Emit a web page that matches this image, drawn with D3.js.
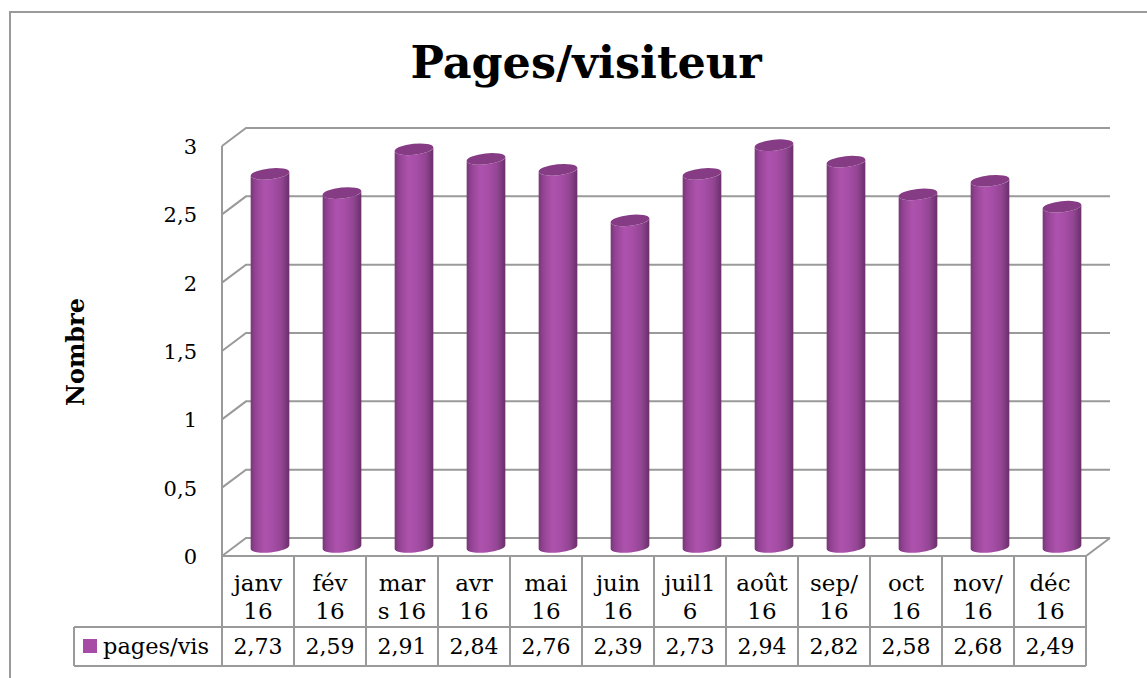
<!DOCTYPE html>
<html>
<head>
<meta charset="utf-8">
<script src="https://cdn.jsdelivr.net/npm/d3@7"></script>
<style>
  html, body { margin: 0; padding: 0; background: #fff; overflow: hidden; }
  svg { display: block; }
  text { font-family: "DejaVu Serif", "Liberation Serif", serif; fill: #000; }
</style>
</head>
<body>
<svg id="chart" width="1147" height="678"></svg>
<script>
// données du graphique
const categories = ["janv 16", "fév 16", "mars 16", "avr 16", "mai 16", "juin 16",
                    "juil16", "août 16", "sep/16", "oct 16", "nov/16", "déc 16"];
// étiquettes coupées sur deux lignes comme dans l'original
const categoryLines = [["janv", "16"], ["fév", "16"], ["mar", "s 16"], ["avr", "16"],
                       ["mai", "16"], ["juin", "16"], ["juil1", "6"], ["août", "16"],
                       ["sep/", "16"], ["oct", "16"], ["nov/", "16"], ["déc", "16"]];
const values = [2.73, 2.59, 2.91, 2.84, 2.76, 2.39, 2.73, 2.94, 2.82, 2.58, 2.68, 2.49];
const seriesName = "pages/vis";
const yTicks = [0, 0.5, 1, 1.5, 2, 2.5, 3];
const title = "Pages/visiteur";
const yTitle = "Nombre";

const svg = d3.select("#chart");
const fr = d3.formatLocale({decimal: ",", thousands: " ", grouping: [3], currency: ["", "€"]});
const fmtTick = fr.format("~g");
const fmtVal = fr.format(".2f");

// profondeur 3D
const dx = 24, dy = -18;
const gridColor = "#9a9a9a";

const x = d3.scaleBand().domain(categories).range([222, 1086]).paddingInner(0).paddingOuter(0);
const y = d3.scaleLinear().domain([0, 3]).range([556, 146]);

// cadre extérieur
svg.append("rect")
  .attr("x", 10).attr("y", 12).attr("width", 1200).attr("height", 700)
  .attr("fill", "none").attr("stroke", gridColor).attr("stroke-width", 2);

// titre
svg.append("text")
  .attr("x", 586).attr("y", 78)
  .attr("text-anchor", "middle")
  .style("font-size", "44.5px").style("font-weight", "bold")
  .text(title);

// titre de l'axe
svg.append("text")
  .attr("transform", "translate(84,352) rotate(-90)")
  .attr("text-anchor", "middle")
  .style("font-size", "24px").style("font-weight", "bold")
  .text(yTitle);

const grid = svg.append("g").attr("stroke", gridColor).attr("stroke-width", 2).attr("fill", "none");

// mur de gauche : arête avant
grid.append("line")
  .attr("x1", x.range()[0]).attr("x2", x.range()[0])
  .attr("y1", y(3)).attr("y2", y(0));

// grilles : diagonale + ligne du fond
yTicks.forEach(t => {
  grid.append("path")
    .attr("d", `M${x.range()[0]},${y(t)} L${x.range()[0] + dx},${y(t) + dy} L${x.range()[1] + dx},${y(t) + dy}`);
});

// plancher
grid.append("path")
  .attr("d", `M${x.range()[0]},${y(0)} L${x.range()[1]},${y(0)} L${x.range()[1] + dx},${y(0) + dy}`);

// étiquettes de l'axe Y
svg.append("g").selectAll("text")
  .data(yTicks)
  .join("text")
  .attr("x", 197)
  .attr("y", d => y(d) + 8)
  .attr("text-anchor", "end")
  .style("font-size", "21px")
  .text(d => fmtTick(d));

// dégradé des cylindres
const defs = svg.append("defs");
const grad = defs.append("linearGradient").attr("id", "cyl").attr("x1", "0%").attr("x2", "100%").attr("y1", "0%").attr("y2", "0%");
[["0%", "#773777"], ["12%", "#934393"], ["35%", "#ad52ad"], ["55%", "#a84ea8"], ["80%", "#924592"], ["100%", "#6a2f6a"]]
  .forEach(s => grad.append("stop").attr("offset", s[0]).attr("stop-color", s[1]));

const bw = x.bandwidth() * 0.54;
const rx = bw / 2, ry = 5.5, rot = -6;
const th = rot * Math.PI / 180;
const ex = rx * Math.cos(th), ey = rx * Math.sin(th);

const bars = svg.append("g").selectAll("g")
  .data(values.map((v, i) => ({v, cat: categories[i]})))
  .join("g");

bars.append("path")
  .attr("fill", "url(#cyl)")
  .attr("d", d => {
    const cx = x(d.cat) + x.bandwidth() / 2 + dx / 2;
    const yb = y(0) + dy / 2;
    const yt = y(d.v) + dy / 2;
    return `M${cx - ex},${yt - ey} L${cx - ex},${yb - ey} A${rx},${ry} ${rot} 0 0 ${cx + ex},${yb + ey} L${cx + ex},${yt + ey} A${rx},${ry} ${rot} 0 1 ${cx - ex},${yt - ey} Z`;
  });

bars.append("ellipse")
  .attr("fill", "#853c85")
  .attr("rx", rx).attr("ry", ry)
  .attr("transform", d => {
    const cx = x(d.cat) + x.bandwidth() / 2 + dx / 2;
    return `translate(${cx},${y(d.v) + dy / 2}) rotate(${rot})`;
  });

// tableau de données
const tTop = y(0), tMid = 627, tBot = 666, legLeft = 74;
const table = svg.append("g").attr("stroke", gridColor).attr("stroke-width", 2).attr("fill", "none");
table.append("path").attr("d", `M${x.range()[0]},${tTop} L${x.range()[0]},${tBot}`);
x.domain().forEach(c => {
  table.append("line").attr("x1", x(c) + x.bandwidth()).attr("x2", x(c) + x.bandwidth()).attr("y1", tTop).attr("y2", tBot);
});
table.append("line").attr("x1", legLeft).attr("x2", x.range()[1]).attr("y1", tMid).attr("y2", tMid);
table.append("line").attr("x1", legLeft).attr("x2", x.range()[1]).attr("y1", tBot).attr("y2", tBot);
table.append("line").attr("x1", legLeft).attr("x2", legLeft).attr("y1", tMid).attr("y2", tBot);

// catégories (2 lignes)
const catG = svg.append("g").selectAll("text")
  .data(categoryLines.map((l, i) => ({l, cat: categories[i]})))
  .join("text")
  .attr("text-anchor", "middle")
  .style("font-size", "23px");
catG.selectAll("tspan")
  .data(d => d.l.map((s, k) => ({s, k, cat: d.cat})))
  .join("tspan")
  .attr("x", d => x(d.cat) + x.bandwidth() / 2)
  .attr("y", d => 591 + d.k * 28)
  .text(d => d.s);

// valeurs
svg.append("g").selectAll("text")
  .data(values.map((v, i) => ({v, cat: categories[i]})))
  .join("text")
  .attr("x", d => x(d.cat) + x.bandwidth() / 2)
  .attr("y", 654)
  .attr("text-anchor", "middle")
  .style("font-size", "22px")
  .text(d => fmtVal(d.v));

// légende
svg.append("rect").attr("x", 83).attr("y", 639).attr("width", 14).attr("height", 14).attr("fill", "#a64ca6");
svg.append("text").attr("x", 103).attr("y", 654).style("font-size", "22.5px").text(seriesName);
</script>
</body>
</html>
